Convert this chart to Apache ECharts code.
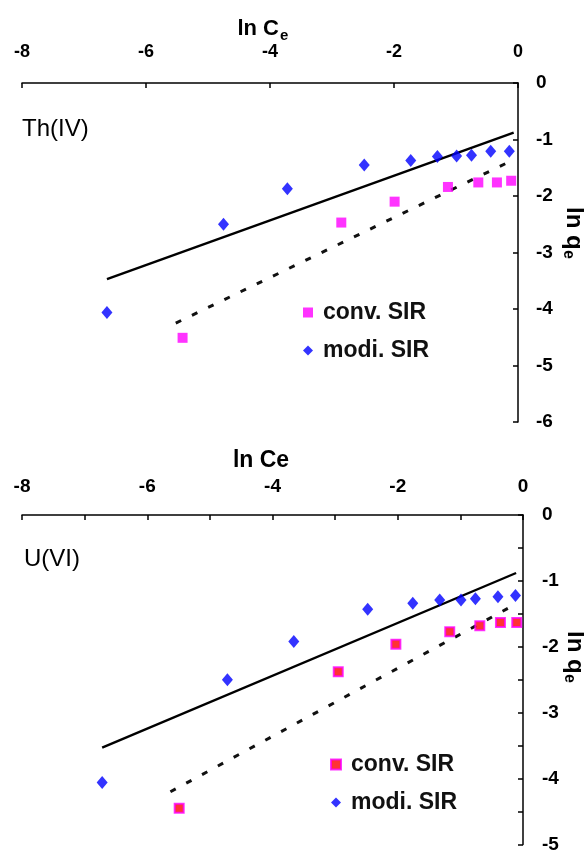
<!DOCTYPE html>
<html><head><meta charset="utf-8">
<script src="https://cdn.jsdelivr.net/npm/echarts@6/dist/echarts.min.js"></script>
<style>html,body{margin:0;padding:0;background:#fff}#c{width:584px;height:854px}</style>
</head><body><div id="c"></div>
<script>
// ---- Th(IV) panel data ----
const thModiX = [-6.63, -4.75, -3.72, -2.48, -1.73, -1.30, -0.99, -0.75, -0.44, -0.14];
const thModiY = [-4.06, -2.50, -1.87, -1.45, -1.37, -1.30, -1.29, -1.28, -1.21, -1.21];
const thConvX = [-5.41, -2.85, -1.99, -1.13, -0.64, -0.34, -0.11];
const thConvY = [-4.51, -2.47, -2.10, -1.84, -1.76, -1.76, -1.73];
const thModiFitX = [-6.63, -0.07];
const thModiFitY = [-3.47, -0.88];
const thConvFitX = [-5.52, -0.17];
const thConvFitY = [-4.25, -1.41];
// ---- U(VI) panel data ----
const uModiX = [-6.72, -4.72, -3.66, -2.48, -1.76, -1.33, -0.99, -0.76, -0.40, -0.12];
const uModiY = [-4.06, -2.50, -1.92, -1.43, -1.34, -1.29, -1.29, -1.27, -1.24, -1.22];
const uConvX = [-5.49, -2.95, -2.03, -1.17, -0.69, -0.36, -0.10];
const uConvY = [-4.45, -2.38, -1.96, -1.77, -1.68, -1.63, -1.63];
const uModiFitX = [-6.72, -0.11];
const uModiFitY = [-3.53, -0.88];
const uConvFitX = [-5.63, -0.15];
const uConvFitY = [-4.20, -1.37];
// ---- axes ----
const xMin = -8, xMax = 0;
const thYMin = -6, thYMax = 0;
const uYMin = -5, uYMax = 0;

const zip = (xs, ys) => xs.map((x, i) => [x, ys[i]]);
const FONT = '"Liberation Sans", Arial, sans-serif';
const axLine = {show: true, onZero: false, lineStyle: {color: '#000', width: 1.5}};
const tick = {show: true, inside: true, length: 5, lineStyle: {color: '#000', width: 1.5}};
const lbl = {color: '#000', fontFamily: FONT, fontWeight: 'bold', fontSize: 19, showMinLabel: true, showMaxLabel: true};
const legText = {fontFamily: FONT, fontWeight: 'bold', fontSize: 23, color: '#111', padding: [0, 0, 0, 5]};

const chart = echarts.init(document.getElementById('c'), null, {renderer: 'canvas'});
const option = {
  backgroundColor: '#fff',
  animation: false,
  grid: [
    {left: 22, width: 496, top: 83, height: 339},
    {left: 22, width: 501, top: 515, height: 332}
  ],
  xAxis: [
    {gridIndex: 0, type: 'value', position: 'top', min: xMin, max: xMax, interval: 2,
     axisLine: axLine, axisTick: tick, splitLine: {show: false},
     axisLabel: Object.assign({}, lbl, {fontSize: 18, margin: 22})},
    {gridIndex: 1, type: 'value', position: 'top', min: xMin, max: xMax, interval: 1,
     axisLine: axLine, axisTick: tick, splitLine: {show: false},
     axisLabel: Object.assign({}, lbl, {margin: 19, formatter: v => (v % 2 === 0 ? String(v) : '')})}
  ],
  yAxis: [
    {gridIndex: 0, type: 'value', position: 'right', min: thYMin, max: thYMax, interval: 1,
     axisLine: axLine, axisTick: tick, splitLine: {show: false},
     axisLabel: Object.assign({}, lbl, {margin: 18})},
    {gridIndex: 1, type: 'value', position: 'right', min: uYMin, max: uYMax, interval: 0.5,
     axisLine: axLine, axisTick: tick, splitLine: {show: false},
     axisLabel: Object.assign({}, lbl, {margin: 19, formatter: v => (Number.isInteger(v) ? String(v) : '')})}
  ],
  legend: [
    {left: 298, top: 296, orient: 'vertical', itemGap: 15, itemWidth: 10, itemHeight: 10,
     selectedMode: false, textStyle: legText,
     data: [{name: 'conv. SIR', icon: 'rect', itemStyle: {color: '#ff00ff', borderWidth: 0}},
            {name: 'modi. SIR', icon: 'diamond', itemStyle: {color: '#0000ff', borderWidth: 0}}]},
    {left: 325, top: 748, orient: 'vertical', itemGap: 15, itemWidth: 10, itemHeight: 10,
     selectedMode: false, textStyle: legText,
     data: [{name: 'conv. SIR', icon: 'rect', itemStyle: {color: '#ff0000', borderColor: '#ff00ff', borderWidth: 2}},
            {name: 'modi. SIR', icon: 'diamond', itemStyle: {color: '#0000ff', borderWidth: 0}}]}
  ],
  series: [
    {name: 'fitA', type: 'line', xAxisIndex: 0, yAxisIndex: 0, data: zip(thModiFitX, thModiFitY),
     showSymbol: false, lineStyle: {color: '#000', width: 2.4}, z: 1},
    {name: 'fitB', type: 'line', xAxisIndex: 0, yAxisIndex: 0, data: zip(thConvFitX, thConvFitY),
     showSymbol: false, lineStyle: {color: '#111', width: 3, type: [6, 12]}, z: 1},
    {name: 'conv. SIR', type: 'scatter', xAxisIndex: 0, yAxisIndex: 0, data: zip(thConvX, thConvY),
     symbol: 'rect', symbolSize: 10, itemStyle: {color: '#ff00ff'}, z: 3},
    {name: 'modi. SIR', type: 'scatter', xAxisIndex: 0, yAxisIndex: 0, data: zip(thModiX, thModiY),
     symbol: 'diamond', symbolSize: [11, 13], itemStyle: {color: '#0000ff'}, z: 3},

    {name: 'fitC', type: 'line', xAxisIndex: 1, yAxisIndex: 1, data: zip(uModiFitX, uModiFitY),
     showSymbol: false, lineStyle: {color: '#000', width: 2.4}, z: 1},
    {name: 'fitD', type: 'line', xAxisIndex: 1, yAxisIndex: 1, data: zip(uConvFitX, uConvFitY),
     showSymbol: false, lineStyle: {color: '#111', width: 3, type: [6, 12]}, z: 1},
    {name: 'conv. SIR', type: 'scatter', xAxisIndex: 1, yAxisIndex: 1, data: zip(uConvX, uConvY),
     symbol: 'rect', symbolSize: 9, itemStyle: {color: '#ff0000', borderColor: '#ff00ff', borderWidth: 2}, z: 3},
    {name: 'modi. SIR', type: 'scatter', xAxisIndex: 1, yAxisIndex: 1, data: zip(uModiX, uModiY),
     symbol: 'diamond', symbolSize: [11, 13], itemStyle: {color: '#0000ff'}, z: 3}
  ],
  graphic: [
    {type: 'text', left: 22, top: 117, style: {text: 'Th(IV)', font: '24px ' + FONT, fill: '#000'}},
    {type: 'text', left: 24, top: 547, style: {text: 'U(VI)', font: '24px ' + FONT, fill: '#000'}},
    {type: 'text', x: 279, y: 29, style: {text: 'ln C', font: 'bold 22px ' + FONT, fill: '#000', align: 'right', verticalAlign: 'middle'}},
    {type: 'text', x: 280, y: 36, style: {text: 'e', font: 'bold 15px ' + FONT, fill: '#000', align: 'left', verticalAlign: 'middle'}},
    {type: 'text', x: 261, y: 461, style: {text: 'ln Ce', font: 'bold 23px ' + FONT, fill: '#000', align: 'center', verticalAlign: 'middle'}},
    {type: 'group', x: 574, y: 207, rotation: -Math.PI / 2, children: [
      {type: 'text', x: 0, y: 0, style: {text: 'ln q', font: 'bold 24px ' + FONT, fill: '#000', align: 'left', verticalAlign: 'middle'}},
      {type: 'text', x: 43, y: 6, style: {text: 'e', font: 'bold 16px ' + FONT, fill: '#000', align: 'left', verticalAlign: 'middle'}}
    ]},
    {type: 'group', x: 575, y: 631, rotation: -Math.PI / 2, children: [
      {type: 'text', x: 0, y: 0, style: {text: 'ln q', font: 'bold 24px ' + FONT, fill: '#000', align: 'left', verticalAlign: 'middle'}},
      {type: 'text', x: 43, y: 6, style: {text: 'e', font: 'bold 16px ' + FONT, fill: '#000', align: 'left', verticalAlign: 'middle'}}
    ]}
  ]
};
chart.setOption(option);
</script></body></html>
